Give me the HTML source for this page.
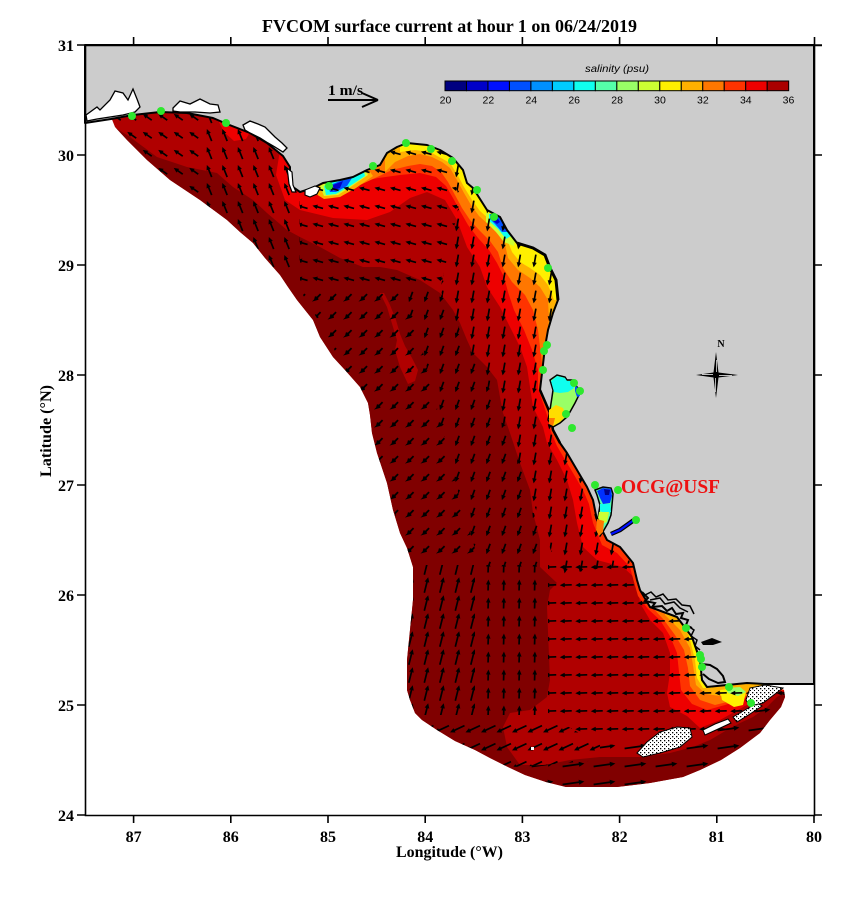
<!DOCTYPE html>
<html><head><meta charset="utf-8"><style>
html,body{margin:0;padding:0;background:#fff;}
svg{display:block;}
.t{font-family:"Liberation Serif",serif;font-weight:bold;}
.s{font-family:"Liberation Sans",sans-serif;}
</style></head><body>
<svg width="857" height="907" viewBox="0 0 857 907" xmlns="http://www.w3.org/2000/svg">
<defs>
<clipPath id="dom"><polygon points="111,117 115,127 127,140 147,160 170,180 200,200 227,220 240,232 253,243 265,258 280,275 288,287 297,300 313,320 320,337 333,357 345,370 360,387 368,403 370,415 372,433 377,453 387,483 393,510 400,533 407,548 413,567 413,600 410,630 407,660 407,690 410,700 415,713 422,720 437,730 455,741 475,750 490,758 508,767 525,775 546,782 566,787 617,787 650,783 683,777 700,770 721,760 740,748 760,733 770,720 781,707 785,697 784,690 778,688 765,684 814,684 814,45 111,45"/></clipPath>
<clipPath id="cD"><polygon points="300,290 400,290 420,340 440,420 460,500 480,565 410,565 370,430 330,340"/></clipPath>
<path id="dRow" fill="none" stroke="#000" stroke-width="1.8" d="M305.08,294.17 l-5.66,5.66 l3.38,-0.91 m-3.38,0.91 l0.91,-3.38 m20.25,-2.28 l-5.66,5.66 l3.38,-0.91 m-3.38,0.91 l0.91,-3.38 m20.25,-2.28 l-5.66,5.66 l3.38,-0.91 m-3.38,0.91 l0.91,-3.38 m20.25,-2.28 l-5.66,5.66 l3.38,-0.91 m-3.38,0.91 l0.91,-3.38 m20.25,-2.28 l-5.66,5.66 l3.38,-0.91 m-3.38,0.91 l0.91,-3.38 m20.25,-2.28 l-5.66,5.66 l3.38,-0.91 m-3.38,0.91 l0.91,-3.38 m20.25,-2.28 l-5.66,5.66 l3.38,-0.91 m-3.38,0.91 l0.91,-3.38 m20.25,-2.28 l-5.66,5.66 l3.38,-0.91 m-3.38,0.91 l0.91,-3.38 m20.25,-2.28 l-5.66,5.66 l3.38,-0.91 m-3.38,0.91 l0.91,-3.38 m20.25,-2.28 l-5.66,5.66 l3.38,-0.91 m-3.38,0.91 l0.91,-3.38 m20.25,-2.28 l-5.66,5.66 l3.38,-0.91 m-3.38,0.91 l0.91,-3.38 m20.25,-2.28 l-5.66,5.66 l3.38,-0.91 m-3.38,0.91 l0.91,-3.38"/>
<pattern id="pA2" width="15.5" height="18" patternUnits="userSpaceOnUse"><g transform="translate(7.75,9) rotate(-145)"><path d="M-5.5 0H1.5" stroke="#000" stroke-width="1.7" fill="none"/><polygon points="5.5,0 0.5,-2.3 0.5,2.3" fill="#000"/></g></pattern>
<pattern id="pA" width="15.5" height="18" patternUnits="userSpaceOnUse"><g transform="translate(7.75,9) rotate(-112)"><path d="M-6.5 0H2.5" stroke="#000" stroke-width="1.7" fill="none"/><polygon points="6.5,0 1.5,-2.3 1.5,2.3" fill="#000"/></g></pattern>
<pattern id="pB" width="15.5" height="18" patternUnits="userSpaceOnUse"><g transform="translate(7.75,9) rotate(-165)"><path d="M-5.5 0H1.5" stroke="#000" stroke-width="1.7" fill="none"/><polygon points="5.5,0 0.5,-2.3 0.5,2.3" fill="#000"/></g></pattern>
<pattern id="pC" width="15.5" height="18" patternUnits="userSpaceOnUse"><g transform="translate(7.75,9) rotate(100)"><path d="M-6.5 0H2.5" stroke="#000" stroke-width="1.7" fill="none"/><polygon points="6.5,0 1.5,-2.3 1.5,2.3" fill="#000"/></g></pattern>
<pattern id="pC2" width="15.5" height="18" patternUnits="userSpaceOnUse"><g transform="translate(7.75,9) rotate(110)"><path d="M-5.5 0H1.5" stroke="#000" stroke-width="1.7" fill="none"/><polygon points="5.5,0 0.5,-2.3 0.5,2.3" fill="#000"/></g></pattern>
<pattern id="pE1" width="15.5" height="18" patternUnits="userSpaceOnUse"><g transform="translate(7.75,9) rotate(-76)"><path d="M-8 0H4" stroke="#000" stroke-width="1.7" fill="none"/><polygon points="8,0 3,-2.4 3,2.4" fill="#000"/></g></pattern>
<pattern id="pE2" width="15.5" height="18" patternUnits="userSpaceOnUse"><g transform="translate(7.75,9) rotate(-88)"><path d="M-5.5 0H1.5" stroke="#000" stroke-width="1.7" fill="none"/><polygon points="5.5,0 0.5,-2.3 0.5,2.3" fill="#000"/></g></pattern>
<pattern id="pF" width="15.5" height="18" patternUnits="userSpaceOnUse"><g transform="translate(7.75,9) rotate(178)"><path d="M-6 0H2" stroke="#000" stroke-width="1.7" fill="none"/><polygon points="6,0 1,-2.3 1,2.3" fill="#000"/></g></pattern>
<pattern id="pH" width="15.5" height="18" patternUnits="userSpaceOnUse"><g transform="translate(7.75,9) rotate(155)"><path d="M-8 0H4" stroke="#000" stroke-width="1.7" fill="none"/><polygon points="8,0 3,-2.4 3,2.4" fill="#000"/></g></pattern>
<pattern id="pG" width="31" height="18" patternUnits="userSpaceOnUse"><g transform="translate(15.5,9) rotate(-8)"><path d="M-11 0H7" stroke="#000" stroke-width="1.8" fill="none"/><polygon points="11,0 5.5,-2.5 5.5,2.5" fill="#000"/></g></pattern>
<pattern id="sp" width="4" height="4" patternUnits="userSpaceOnUse"><rect x="0" y="0" width="1.3" height="1.3" fill="#000"/><rect x="2" y="2" width="1" height="1" fill="#000"/></pattern>
</defs>

<rect width="857" height="907" fill="#fff"/>

<!-- model domain colours -->
<g clip-path="url(#dom)">
<rect x="80" y="40" width="740" height="780" fill="#b00000"/>
<polygon fill="#800000" points="60,110 100,118 130,137 157,157 187,167 217,173 233,187 253,200 267,213 287,230 300,237 320,247 340,258 363,267 380,267 397,270 420,280 440,293 453,310 460,323 467,340 473,353 487,367 497,380 500,397 503,413 510,433 520,463 530,490 533,513 540,540 540,567 557,583 550,590 547,607 550,680 547,697 530,710 510,713 503,727 507,747 520,765 545,765 570,760 600,757 643,757 670,753 693,747 710,740 727,730 740,723 753,717 767,707 777,697 790,690 830,700 830,830 60,830"/>
<polygon fill="#b00000" points="380,293 387,307 393,327 397,340 395,350 400,367 408,384 415,381 418,370 412,358 405,346 400,334 396,320 390,305 384,293"/>
<polygon fill="#ee0000" points="280,150 276,175 285,200 300,210 333,218 367,220 390,212 410,198 427,192 445,200 457,220 467,247 480,267 487,287 500,307 510,327 520,347 527,367 530,387 533,407 543,427 547,443 557,460 567,480 573,500 577,523 583,547 597,560 623,567 637,580 640,603 650,620 663,633 670,653 670,673 667,693 670,707 687,716 700,728 720,720 745,706 765,697 785,690 814,684 814,45 280,45"/>
<polygon fill="#ee0000" points="218,120 224,132 234,141 246,139 250,132 240,124"/>
<polygon fill="#ff3300" points="345,190 360,182 378,178 400,175 420,173 436,177 446,186 453,198 460,211 468,225 478,238 489,250 497,263 504,277 508,292 514,310 524,330 532,350 538,370 538,388 542,400 547,415 551,432 557,446 564,458 573,473 583,490 589,504 593,523 602,545 617,553 630,567 634,582 638,596 648,609 660,620 670,636 677,653 679,672 681,690 692,704 707,710 725,705 745,698 765,693 785,690 814,684 814,45 345,45"/>
<polygon fill="#ff7700" points="360,185 375,178 392,170 408,166 420,164 432,166 441,172 448,182 455,195 462,208 470,220 480,231 490,241 498,252 503,268 512,282 525,295 533,310 538,330 541,355 543,375 545,390 570,390 570,45 360,45"/>
<polygon fill="#ff7700" points="640,590 652,607 664,620 675,635 684,650 688,668 690,686 700,700 715,705 735,700 755,693 775,689 814,684 814,560 640,560"/>
<polygon fill="#ffb000" points="385,172 395,162 408,156 420,154 432,157 442,162 450,168 457,180 464,193 471,205 479,216 489,225 498,234 505,244 508,258 518,270 530,278 540,287 548,300 549,320 546,340 560,340 560,45 385,45"/>
<polygon fill="#ffb000" points="665,615 680,630 690,648 693,665 696,685 706,694 720,696 740,693 760,689 814,684 814,600 665,600"/>
<polygon fill="#fff000" points="400,152 415,150 430,152 441,158 450,163 457,174 464,187 472,200 480,211 490,220 500,229 507,239 512,252 520,262 530,268 540,275 548,285 554,300 565,300 565,45 400,45"/>
<polygon fill="#fff000" points="686,628 690,640 695,660 697,678 703,688 712,688 712,620"/>
<polygon fill="#fff000" points="720,690 736,688 746,692 743,705 734,707 722,700"/>
<polygon fill="#99ff66" points="726,688 740,687 746,692 738,696 728,693"/>
<!-- Suwannee patch -->
<polygon fill="#ccff33" points="486,213 496,212 507,221 516,236 514,246 504,242 496,232 486,222"/>
<polygon fill="#10ffee" points="489,214 497,214 505,223 511,236 506,239 498,229 489,221"/>
<polygon fill="#0050ff" points="490,214 497,215 503,223 507,232 502,232 495,224 490,219"/>
<polygon fill="#0000c8" points="491,215 496,216 500,222 497,224 492,220"/>
<!-- Apalachicola patch -->
<polygon fill="#ffb000" points="316,186 330,179 350,174 368,169 373,176 356,188 340,197 324,199 316,194"/>
<polygon fill="#ccff33" points="320,186 332,180 350,175 366,171 368,175 352,186 338,195 324,196"/>
<polygon fill="#10ffee" points="324,186 335,181 352,176 364,172 365,176 350,186 336,194 326,195"/>
<polygon fill="#0050ff" points="328,186 340,181 352,178 347,186 336,192 330,192"/>
<polygon fill="#0000c8" points="333,185 343,181 340,188 334,190"/>
</g>

<!-- current vectors -->
<g clip-path="url(#dom)">
<polygon fill="url(#pA2)" points="85,100 205,100 205,240 85,240"/>
<polygon fill="url(#pA)" points="205,100 300,100 300,270 205,270"/>
<polygon fill="url(#pB)" points="300,150 445,150 460,200 440,290 300,290"/>
<polygon fill="url(#pC)" points="445,150 600,150 600,480 650,560 560,575 525,480 495,400 440,290 460,200"/>
<polygon fill="url(#pC2)" points="400,290 440,290 495,400 525,480 548,565 480,565 460,500 440,420 420,340"/>
<polygon fill="url(#pE1)" points="380,565 475,565 475,715 380,715"/>
<polygon fill="url(#pE2)" points="475,565 548,565 548,715 475,715"/>
<polygon fill="url(#pF)" points="548,565 820,565 820,690 785,693 740,722 690,742 600,745 548,715"/>
<polygon fill="url(#pH)" points="380,715 548,715 600,745 600,760 520,767 380,760"/>
<polygon fill="url(#pG)" points="600,745 690,742 740,722 785,693 820,690 820,820 480,820 520,767 600,760"/>
</g>
<g clip-path="url(#dom)"><g clip-path="url(#cD)">
<use href="#dRow"/><use href="#dRow" y="18"/><use href="#dRow" y="36"/><use href="#dRow" y="54"/><use href="#dRow" y="72"/><use href="#dRow" y="90"/><use href="#dRow" y="108"/><use href="#dRow" y="126"/><use href="#dRow" y="144"/><use href="#dRow" y="162"/><use href="#dRow" y="180"/><use href="#dRow" y="198"/><use href="#dRow" y="216"/><use href="#dRow" y="234"/><use href="#dRow" y="252"/>
</g></g>

<!-- land -->
<polygon fill="#cccccc" stroke="#000" stroke-width="2" stroke-linejoin="round" points="85,123 111,119 133,115 160,112 187,113 213,118 227,124 250,133 267,143 283,156 290,167 290,185 300,192 313,188 323,183 340,180 353,177 367,170 380,165 387,153 397,147 407,143 427,145 440,150 453,158 463,170 467,183 473,188 487,210 500,217 507,230 517,243 533,248 545,255 550,268 556,280 558,300 553,313 548,330 545,347 542,373 540,390 550,413 553,430 560,443 567,453 577,470 587,487 593,500 597,520 607,540 620,547 633,563 637,580 640,590 650,607 677,617 692,637 700,660 702,680 707,687 727,685 747,683 765,684 814,684 814,45 85,45"/>
<!-- panhandle bays -->
<polygon fill="#fff" stroke="#000" stroke-width="1.3" points="86,115 97,107 100,110 110,100 115,91 123,93 128,100 133,89 137,99 140,107 135,112 123,115 110,117 97,119 87,121"/>
<polygon fill="#fff" stroke="#000" stroke-width="1.3" points="173,108 180,101 190,104 200,99 210,104 218,105 220,112 210,113 195,112 180,112 173,111"/>
<polygon fill="#fff" stroke="#000" stroke-width="1.3" points="243,125 250,121 258,124 265,127 270,132 275,137 282,143 287,148 283,152 275,147 268,143 260,138 250,133 245,130"/>
<polygon fill="#fff" stroke="#000" stroke-width="1.2" points="287,168 292,172 293,185 296,192 292,192 289,184 288,175"/>
<polygon fill="#fff" stroke="#000" stroke-width="1.2" points="305,190 315,186 320,188 317,194 310,197 305,195"/>
<!-- coastal black clutter -->
<polyline fill="none" stroke="#000" stroke-width="3" points="517,243 533,248 545,255 550,268 556,280 558,300"/>
<polyline fill="none" stroke="#000" stroke-width="2.5" points="540,390 550,413 553,430 560,443"/>
<polyline fill="none" stroke="#000" stroke-width="2" points="642,592 648,598 645,601 655,603 652,607 662,606 667,611 672,608 676,614 683,613 681,618 688,620 686,625 692,628"/>
<polyline fill="none" stroke="#000" stroke-width="1.5" points="650,600 660,598 665,604 674,602 680,608 688,612"/>
<polyline fill="none" stroke="#000" stroke-width="1.5" points="645,595 651,592 656,597 663,594 668,600 676,599 682,605 690,606 694,614"/>
<polyline fill="none" stroke="#000" stroke-width="1.5" points="688,626 694,630 691,636 697,640 695,646 700,650"/>
<polygon fill="#000" points="701,642 712,638 722,642 713,645 703,645"/>
<polyline fill="none" stroke="#000" stroke-width="2" points="702,664 710,665 717,669 723,676 725,682 718,683 709,679 703,674"/>
<!-- Tampa Bay -->
<polygon fill="#99ff66" stroke="#000" stroke-width="1.5" points="550,380 557,375 565,377 567,380 573,380 577,387 580,390 578,397 575,403 570,412 567,417 560,423 553,427 548,420 550,410 552,397 553,390"/>
<polygon fill="#10ffee" points="551,381 557,376 565,378 567,381 572,381 574,388 568,392 560,393 554,392"/>
<polygon fill="#0050ff" points="575,385 579,389 580,396 577,397 575,391"/>
<polygon fill="#ffdd00" points="549,410 556,405 563,408 566,416 560,422 553,426 549,420"/>
<polygon fill="#ff7700" points="549,418 555,418 553,426 549,424"/>
<!-- Charlotte Harbor -->
<polygon fill="#55ffaa" stroke="#000" stroke-width="1.5" points="595,490 603,487 611,488 613,494 612,505 611,515 608,523 604,530 600,536 597,530 598,518 600,505 597,495"/>
<polygon fill="#0030ff" points="597,491 603,488 611,489 612,496 610,503 603,504 600,498"/>
<polygon fill="#00008c" points="604,489 610,490 609,495 605,495"/>
<polygon fill="#10ffee" points="600,504 610,504 611,512 605,514 600,510"/>
<polygon fill="#ccff33" points="599,512 609,512 607,522 602,524 598,518"/>
<polygon fill="#ff7700" points="597,519 604,521 603,532 599,536 596,530"/>
<polyline fill="none" stroke="#000" stroke-width="4.5" points="611,534 620,530 627,525 634,520"/>
<polyline fill="none" stroke="#0010ff" stroke-width="2.2" points="611,534 620,530 627,525 634,520"/>
<!-- Keys islands -->
<g stroke="#000" stroke-width="1">
<polygon fill="#fff" points="637,753 647,742 660,732 677,727 690,728 692,737 680,747 660,753 643,757"/>
<polygon fill="#fff" points="703,730 715,724 728,719 731,723 716,730 705,735"/>
<polygon fill="#fff" points="733,717 745,710 757,703 762,706 750,714 737,722"/>
<polygon fill="#fff" points="746,700 750,688 765,685 783,688 775,694 763,703 750,706"/>
</g>
<polygon fill="url(#sp)" points="637,753 647,742 660,732 677,727 690,728 692,737 680,747 660,753 643,757"/>
<polygon fill="url(#sp)" points="733,717 745,710 757,703 762,706 750,714 737,722"/>
<polygon fill="url(#sp)" points="746,700 750,688 765,685 783,688 775,694 763,703 750,706"/>
<rect x="531" y="747" width="3" height="3" fill="#fff"/>
<!-- stations -->
<g fill="#2ee82e">
<circle cx="132" cy="116" r="4"/><circle cx="161" cy="111" r="4"/><circle cx="226" cy="123" r="4"/><circle cx="329" cy="186" r="4"/><circle cx="373" cy="166" r="4"/><circle cx="406" cy="143" r="4"/><circle cx="431" cy="149" r="4"/><circle cx="452" cy="161" r="4"/><circle cx="477" cy="190" r="4"/><circle cx="494" cy="217" r="4"/><circle cx="548" cy="268" r="4"/><circle cx="547" cy="345" r="4"/><circle cx="544" cy="351" r="4"/><circle cx="543" cy="370" r="4"/><circle cx="574" cy="383" r="4"/><circle cx="580" cy="391" r="4"/><circle cx="566" cy="414" r="4"/><circle cx="572" cy="428" r="4"/><circle cx="595" cy="485" r="4"/><circle cx="618" cy="490" r="4"/><circle cx="636" cy="520" r="4"/><circle cx="686" cy="628" r="4"/><circle cx="700" cy="655" r="4"/><circle cx="701" cy="659" r="4"/><circle cx="702" cy="667" r="4"/><circle cx="729" cy="687" r="4"/><circle cx="751" cy="703" r="4"/>
</g>

<!-- axes -->
<g stroke="#000" stroke-width="1.6" fill="none">
<path d="M85.5,45 V815.5 H814.5 V37 M85,45.5 H822"/>
<path d="M77,45H85M77,155H85M77,265H85M77,375H85M77,485H85M77,595H85M77,705H85M77,815H85"/>
<path d="M814,45H822M814,155H822M814,265H822M814,375H822M814,485H822M814,595H822M814,705H822M814,815H822"/>
<path d="M133.6,37V45M230.8,37V45M328,37V45M425.2,37V45M522.4,37V45M619.6,37V45M716.8,37V45"/>
<path d="M133.6,815V823M230.8,815V823M328,815V823M425.2,815V823M522.4,815V823M619.6,815V823M716.8,815V823M814,815V823"/>
</g>
<g class="t" font-size="16" text-anchor="end">
<text x="74" y="51">31</text><text x="74" y="161">30</text><text x="74" y="271">29</text><text x="74" y="381">28</text><text x="74" y="491">27</text><text x="74" y="601">26</text><text x="74" y="711">25</text><text x="74" y="821">24</text>
</g>
<g class="t" font-size="16" text-anchor="middle">
<text x="133.6" y="842">87</text><text x="230.8" y="842">86</text><text x="328" y="842">85</text><text x="425.2" y="842">84</text><text x="522.4" y="842">83</text><text x="619.6" y="842">82</text><text x="716.8" y="842">81</text><text x="814" y="842">80</text>
</g>
<text class="t" x="449.5" y="857" font-size="16" text-anchor="middle" textLength="107" lengthAdjust="spacingAndGlyphs">Longitude (°W)</text>
<text class="t" transform="translate(51,431) rotate(-90)" font-size="16" text-anchor="middle" textLength="92" lengthAdjust="spacingAndGlyphs">Latitude (°N)</text>
<text class="t" x="449.5" y="32" font-size="18" text-anchor="middle" textLength="375" lengthAdjust="spacingAndGlyphs">FVCOM surface current at hour 1 on 06/24/2019</text>

<!-- scale arrow -->
<text class="t" x="328" y="95" font-size="15" textLength="35" lengthAdjust="spacingAndGlyphs">1 m/s</text>
<path d="M328,100H378M378,100L362,93M378,100L362,107" stroke="#000" stroke-width="2" fill="none"/>

<!-- colorbar -->
<text class="s" x="617" y="72" font-size="10.5" font-style="italic" text-anchor="middle" textLength="64" lengthAdjust="spacingAndGlyphs">salinity (psu)</text>
<g stroke="#000" stroke-width="1">
<rect x="445" y="81" width="21.48" height="9.7" fill="#000080"/>
<rect x="466.48" y="81" width="21.48" height="9.7" fill="#0000c8"/>
<rect x="487.96" y="81" width="21.48" height="9.7" fill="#0010ff"/>
<rect x="509.44" y="81" width="21.48" height="9.7" fill="#0050ff"/>
<rect x="530.92" y="81" width="21.48" height="9.7" fill="#0090ff"/>
<rect x="552.4" y="81" width="21.48" height="9.7" fill="#00ccff"/>
<rect x="573.88" y="81" width="21.48" height="9.7" fill="#10ffee"/>
<rect x="595.36" y="81" width="21.48" height="9.7" fill="#55ffaa"/>
<rect x="616.84" y="81" width="21.48" height="9.7" fill="#99ff66"/>
<rect x="638.32" y="81" width="21.48" height="9.7" fill="#ccff33"/>
<rect x="659.8" y="81" width="21.48" height="9.7" fill="#fff000"/>
<rect x="681.28" y="81" width="21.48" height="9.7" fill="#ffb000"/>
<rect x="702.76" y="81" width="21.48" height="9.7" fill="#ff7700"/>
<rect x="724.24" y="81" width="21.48" height="9.7" fill="#ff3300"/>
<rect x="745.72" y="81" width="21.48" height="9.7" fill="#ee0000"/>
<rect x="767.2" y="81" width="21.48" height="9.7" fill="#aa0000"/>
</g>
<g class="s" font-size="10.5" text-anchor="middle">
<text x="445.5" y="103.5">20</text><text x="488.4" y="103.5">22</text><text x="531.3" y="103.5">24</text><text x="574.2" y="103.5">26</text><text x="617.1" y="103.5">28</text><text x="660" y="103.5">30</text><text x="702.9" y="103.5">32</text><text x="745.8" y="103.5">34</text><text x="788.5" y="103.5">36</text>
</g>

<!-- compass -->
<text class="t" x="721" y="347" font-size="10" text-anchor="middle">N</text>
<polygon fill="#000" points="716,352 718.5,372.5 738,375 718.5,377.5 716,398 713.5,377.5 696,375 713.5,372.5"/>
<path d="M716.6,360V372M715.4,378V392M702,374.4H713M719,375.6H732" stroke="#fff" stroke-width="0.7"/>

<!-- OCG -->
<text class="t" x="621" y="493" font-size="20" fill="#ee1111" textLength="99" lengthAdjust="spacingAndGlyphs">OCG@USF</text>
</svg>
</body></html>
